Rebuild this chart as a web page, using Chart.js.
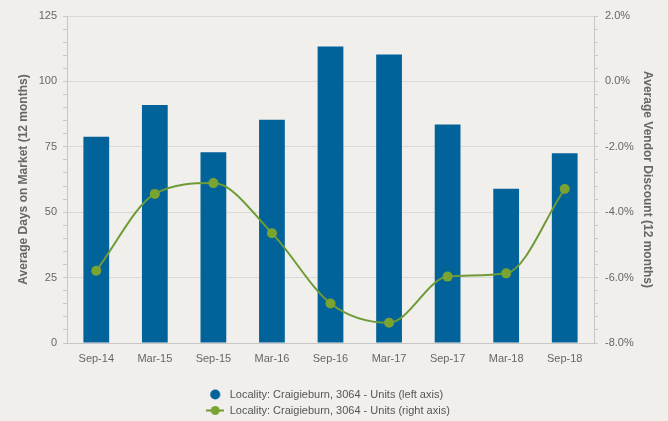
<!DOCTYPE html>
<html>
<head>
<meta charset="utf-8">
<script src="https://cdn.jsdelivr.net/npm/chart.js@4/dist/chart.umd.min.js"></script>
<style>
  html, body { margin: 0; padding: 0; background: #f0efeb; }
  #wrap { width: 668px; height: 421px; }
</style>
</head>
<body>
<div id="wrap"><canvas id="c" width="668" height="421"></canvas></div>
<script>
const categories = ['Sep-14','Mar-15','Sep-15','Mar-16','Sep-16','Mar-17','Sep-17','Mar-18','Sep-18'];
const daysOnMarket = [78.8, 91.0, 72.9, 85.3, 113.3, 110.3, 83.5, 59.0, 72.5];
const vendorDiscount = [-5.79, -3.44, -3.11, -4.64, -6.79, -7.38, -5.97, -5.87, -3.29];
const seriesNames = ['Locality: Craigieburn, 3064 - Units (left axis)', 'Locality: Craigieburn, 3064 - Units (right axis)'];
const leftTitle = 'Average Days on Market (12 months)';
const rightTitle = 'Average Vendor Discount (12 months)';

const BLUE = '#02629a';
const GREEN_LINE = '#6e9b36';
const GREEN_PT = '#7aa431';
const TXT = '#666666';
const FONT = "'Liberation Sans', Arial, Helvetica, sans-serif";

function makeIcon(kind) {
  const cv = document.createElement('canvas');
  cv.width = 18; cv.height = 11;
  const g = cv.getContext('2d');
  if (kind === 'line') {
    g.strokeStyle = GREEN_LINE; g.lineWidth = 2;
    g.beginPath(); g.moveTo(0, 5.5); g.lineTo(18, 5.5); g.stroke();
    g.fillStyle = GREEN_PT; g.beginPath(); g.arc(9, 5.5, 4.5, 0, Math.PI * 2); g.fill();
  } else {
    g.fillStyle = BLUE; g.beginPath(); g.arc(9, 5.5, 5, 0, Math.PI * 2); g.fill();
  }
  return cv;
}
const icons = [makeIcon('circle'), makeIcon('line')];

const legendWrap = {
  id: 'legendWrap',
  beforeUpdate(chart) {
    const lg = chart.legend;
    if (lg && !lg._wrapped) {
      const origFit = lg.fit;
      lg.fit = function () {
        const m = this.maxWidth;
        this.maxWidth = 300;
        origFit.call(this);
        this.maxWidth = m;
        this.width = m;
        this.height = this.height - 5;
        if (this.lineWidths && this.lineWidths.length) {
          const w = Math.max(...this.lineWidths) + 12;
          this.lineWidths = this.lineWidths.map(() => w);
        }
      };
      lg._wrapped = true;
    }
  }
};

const isMajor = (v, step) => Math.abs(v / step - Math.round(v / step)) < 1e-6;

new Chart(document.getElementById('c'), {
  data: {
    labels: categories,
    datasets: [
      {
        type: 'bar',
        label: seriesNames[0],
        data: daysOnMarket,
        yAxisID: 'y',
        backgroundColor: BLUE,
        borderWidth: 0,
        categoryPercentage: 1.0,
        barPercentage: 0.44,
        order: 2
      },
      {
        type: 'line',
        label: seriesNames[1],
        data: vendorDiscount,
        yAxisID: 'y1',
        borderColor: GREEN_LINE,
        borderWidth: 2,
        backgroundColor: GREEN_PT,
        pointBackgroundColor: GREEN_PT,
        pointBorderWidth: 0,
        pointRadius: 5,
        cubicInterpolationMode: 'monotone',
        fill: false,
        order: 1
      }
    ]
  },
  options: {
    responsive: false,
    animation: false,
    layout: { padding: { top: 16, left: 0, right: 0, bottom: 0 } },
    plugins: {
      tooltip: { enabled: false },
      legend: {
        position: 'bottom',
        labels: {
          usePointStyle: true,
          pointStyleWidth: 18,
          boxHeight: 11,
          padding: 5,
          color: '#555555',
          font: { family: FONT, size: 11 },
          generateLabels(chart) {
            const items = Chart.defaults.plugins.legend.labels.generateLabels(chart);
            items.sort((a, b) => a.datasetIndex - b.datasetIndex);
            items.forEach(it => { it.pointStyle = icons[it.datasetIndex]; });
            return items;
          }
        }
      }
    },
    scales: {
      x: {
        type: 'category',
        grid: { display: false },
        border: { color: '#c6c6c6', width: 1 },
        ticks: { color: TXT, font: { family: FONT, size: 11 }, padding: 1, maxRotation: 0 },
        afterFit(s) { s.height = 41; }
      },
      y: {
        type: 'linear',
        position: 'left',
        min: 0,
        max: 125,
        ticks: {
          stepSize: 5,
          autoSkip: false,
          color: TXT,
          font: { family: FONT, size: 11 },
          padding: 6,
          callback: v => (isMajor(v, 25) ? String(v) : '')
        },
        grid: {
          color: c => (c.tick && isMajor(c.tick.value, 25) ? '#d9d9d6' : 'rgba(0,0,0,0)'),
          tickColor: '#c9c9c6',
          tickLength: 4,
          lineWidth: 1
        },
        border: { color: '#c6c6c6', width: 1 },
        title: {
          display: true,
          text: leftTitle,
          color: TXT,
          font: { family: FONT, size: 12, weight: 'bold' },
          padding: { top: 16, bottom: 0 }
        },
        afterFit(s) { s.width = 67; }
      },
      y1: {
        type: 'linear',
        position: 'right',
        min: -8,
        max: 2,
        ticks: {
          stepSize: 0.4,
          autoSkip: false,
          color: TXT,
          font: { family: FONT, size: 11 },
          padding: 7,
          callback: v => (isMajor(v, 2) ? v.toFixed(1) + '%' : '')
        },
        grid: {
          drawOnChartArea: false,
          tickColor: '#c9c9c6',
          tickLength: 4
        },
        border: { color: '#c6c6c6', width: 1 },
        title: {
          display: true,
          text: rightTitle,
          color: TXT,
          font: { family: FONT, size: 12, weight: 'bold' },
          padding: { top: 13, bottom: 0 }
        },
        afterFit(s) { s.width = 74; }
      }
    }
  },
  plugins: [legendWrap]
});
</script>
</body>
</html>
